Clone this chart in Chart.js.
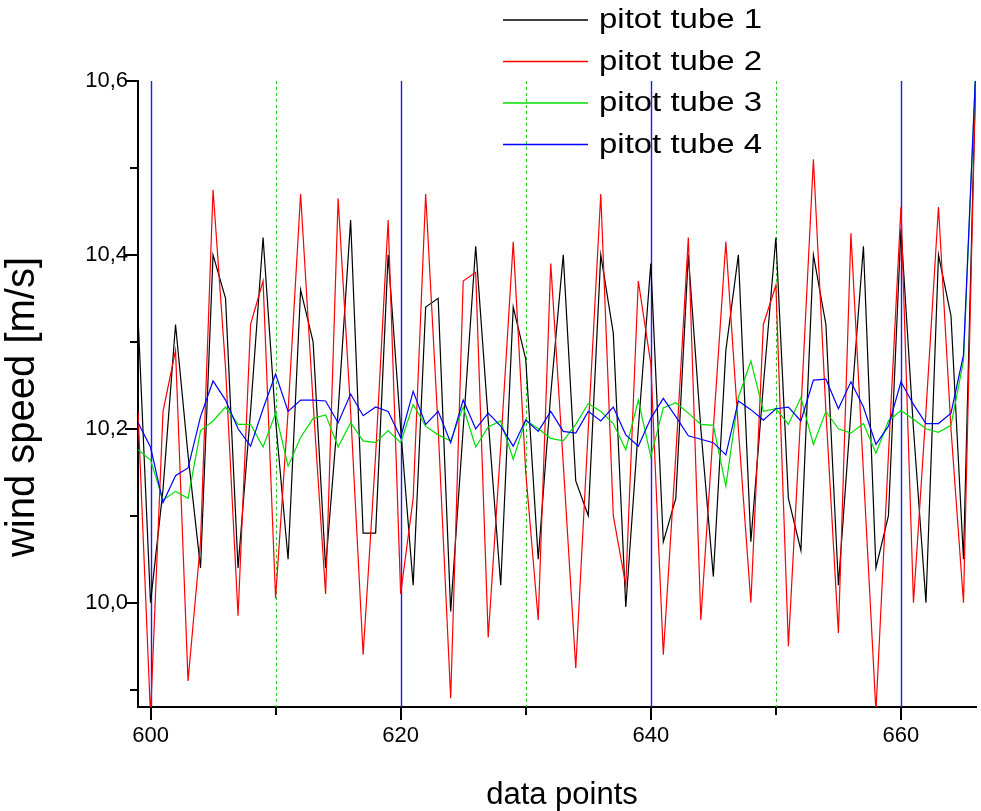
<!DOCTYPE html>
<html>
<head>
<meta charset="utf-8">
<script src="https://cdn.jsdelivr.net/npm/chart.js@4"></script>
<style>
  body { margin: 0; background: #fff; }
  #wrap { width: 981px; height: 811px; }
</style>
</head>
<body>
<div id="wrap"><canvas id="windChart"></canvas></div>
<script>
// data points (x axis)
const points = [
  599, 600, 601, 602, 603, 604, 605, 606, 607, 608, 609,
  610, 611, 612, 613, 614, 615, 616, 617, 618, 619,
  620, 621, 622, 623, 624, 625, 626, 627, 628, 629,
  630, 631, 632, 633, 634, 635, 636, 637, 638, 639,
  640, 641, 642, 643, 644, 645, 646, 647, 648, 649,
  650, 651, 652, 653, 654, 655, 656, 657, 658, 659,
  660, 661, 662, 663, 664, 665, 666
];

// wind speed [m/s] per pitot tube
const tube1 = [
  10.33, 10.00, 10.13, 10.32, 10.17, 10.04, 10.40, 10.35, 10.04, 10.22, 10.42,
  10.21, 10.05, 10.36, 10.30, 10.04, 10.22, 10.44, 10.08, 10.08, 10.40,
  10.20, 10.02, 10.34, 10.35, 9.99, 10.20, 10.41, 10.21, 10.02, 10.34,
  10.28, 10.05, 10.24, 10.40, 10.14, 10.10, 10.40, 10.31, 9.995, 10.20,
  10.39, 10.07, 10.12, 10.40, 10.20, 10.03, 10.29, 10.40, 10.07, 10.25,
  10.42, 10.12, 10.06, 10.40, 10.32, 10.02, 10.22, 10.41, 10.04, 10.10,
  10.43, 10.20, 10.00, 10.40, 10.33, 10.05, 10.62
];
const tube2 = [
  10.22, 9.87, 10.22, 10.29, 9.91, 10.07, 10.475, 10.27, 9.985, 10.32, 10.37,
  10.005, 10.22, 10.47, 10.23, 10.01, 10.465, 10.22, 9.94, 10.17, 10.44,
  10.01, 10.12, 10.47, 10.20, 9.89, 10.37, 10.38, 9.96, 10.18, 10.415,
  10.15, 9.98, 10.39, 10.16, 9.925, 10.20, 10.47, 10.10, 10.02, 10.37,
  10.275, 9.94, 10.17, 10.42, 9.98, 10.20, 10.415, 10.20, 10.00, 10.32,
  10.365, 9.95, 10.22, 10.51, 10.22, 9.965, 10.425, 10.15, 9.875, 10.17,
  10.455, 10.00, 10.22, 10.455, 10.20, 10.00, 10.62
];
const tube3 = [
  10.176, 10.164, 10.118, 10.128, 10.12, 10.198, 10.209, 10.225, 10.205, 10.205, 10.179,
  10.218, 10.157, 10.19, 10.212, 10.216, 10.179, 10.207, 10.186, 10.184, 10.198,
  10.184, 10.228, 10.203, 10.193, 10.186, 10.225, 10.179, 10.202, 10.209, 10.165,
  10.21, 10.20, 10.189, 10.186, 10.205, 10.229, 10.22, 10.206, 10.176, 10.233,
  10.168, 10.224, 10.23, 10.218, 10.205, 10.204, 10.134, 10.236, 10.278, 10.22,
  10.223, 10.205, 10.236, 10.182, 10.22, 10.20, 10.195, 10.206, 10.172, 10.209,
  10.221, 10.211, 10.20, 10.196, 10.204, 10.278, 10.62
];
const tube4 = [
  10.207, 10.179, 10.115, 10.146, 10.155, 10.214, 10.255, 10.233, 10.20, 10.18, 10.223,
  10.263, 10.22, 10.233, 10.233, 10.232, 10.207, 10.24, 10.215, 10.225, 10.22,
  10.19, 10.243, 10.205, 10.22, 10.184, 10.233, 10.20, 10.218, 10.203, 10.18,
  10.21, 10.197, 10.22, 10.197, 10.195, 10.22, 10.209, 10.225, 10.193, 10.18,
  10.212, 10.235, 10.214, 10.192, 10.188, 10.184, 10.17, 10.232, 10.222, 10.21,
  10.223, 10.225, 10.209, 10.256, 10.257, 10.223, 10.254, 10.225, 10.182, 10.203,
  10.254, 10.228, 10.206, 10.206, 10.218, 10.285, 10.62
];

const seriesNames = ["pitot tube 1", "pitot tube 2", "pitot tube 3", "pitot tube 4"];
const seriesColors = ["#000000", "#ff0000", "#00dd00", "#0000ff"];

// axis ticks and titles
const xMajorTicks = [600, 620, 640, 660];
const xMinorTicks = [610, 630, 650];
const yMajorTicks = [10.0, 10.2, 10.4, 10.6];
const yMinorTicks = [9.9, 10.1, 10.3, 10.5];
const xTitle = "data points";
const yTitle = "wind speed [m/s]";

const FONT = "'Liberation Sans', Arial, sans-serif";

function toXY(values) {
  return points.map((p, i) => ({ x: p, y: values[i] }));
}

// vertical marker lines at the x ticks (blue solid / green dashed)
const markerLines = {
  id: "markerLines",
  beforeDatasetsDraw(chart) {
    const { ctx, chartArea } = chart;
    const xs = chart.scales.x;
    ctx.save();
    ctx.lineWidth = 1;
    ctx.strokeStyle = "#22cc22";
    ctx.setLineDash([3, 3]);
    xMinorTicks.forEach((v) => {
      const px = Math.round(xs.getPixelForValue(v)) + 0.5;
      ctx.beginPath();
      ctx.moveTo(px, chartArea.top);
      ctx.lineTo(px, chartArea.bottom);
      ctx.stroke();
    });
    ctx.setLineDash([]);
    ctx.strokeStyle = "#1a1aff";
    ctx.lineWidth = 1.4;
    xMajorTicks.forEach((v) => {
      const px = Math.round(xs.getPixelForValue(v)) + 0.5;
      ctx.beginPath();
      ctx.moveTo(px, chartArea.top);
      ctx.lineTo(px, chartArea.bottom);
      ctx.stroke();
    });
    ctx.restore();
  }
};

// outward tick marks (long for labelled ticks) and the two axis titles
const axisDecor = {
  id: "axisDecor",
  afterDraw(chart) {
    const { ctx, chartArea } = chart;
    const xs = chart.scales.x, ys = chart.scales.y;
    ctx.save();
    ctx.strokeStyle = "#000";
    ctx.lineWidth = 2;
    const xTick = (v, len) => {
      const px = Math.round(xs.getPixelForValue(v));
      ctx.beginPath();
      ctx.moveTo(px, xs.top);
      ctx.lineTo(px, xs.top + len);
      ctx.stroke();
    };
    const yTick = (v, len) => {
      const py = Math.round(ys.getPixelForValue(v));
      ctx.beginPath();
      ctx.moveTo(ys.right, py);
      ctx.lineTo(ys.right - len, py);
      ctx.stroke();
    };
    xMajorTicks.forEach((v) => xTick(v, 13));
    xMinorTicks.forEach((v) => xTick(v, 8));
    yMajorTicks.forEach((v) => yTick(v, 13));
    yMinorTicks.forEach((v) => yTick(v, 8));

    ctx.fillStyle = "#000";
    ctx.textAlign = "center";
    ctx.textBaseline = "middle";
    ctx.font = "31px " + FONT;
    ctx.fillText(xTitle, (chartArea.left + chartArea.right) / 2 + 5, 795);
    ctx.translate(23, 407);
    ctx.rotate(-Math.PI / 2);
    ctx.font = "40px " + FONT;
    ctx.fillText(yTitle, 0, 0);
    ctx.restore();
  }
};

// legend in the top area: line sample and label
const lineLegend = {
  id: "lineLegend",
  afterDraw(chart) {
    const { ctx } = chart;
    ctx.save();
    chart.data.datasets.forEach((ds, i) => {
      const y = 20 + i * 41.5;
      ctx.strokeStyle = ds.borderColor;
      ctx.lineWidth = 1.5;
      ctx.beginPath();
      ctx.moveTo(503, y);
      ctx.lineTo(588, y);
      ctx.stroke();
      ctx.save();
      ctx.translate(599, y);
      ctx.scale(1.22, 1);
      ctx.fillStyle = "#000";
      ctx.font = "27px " + FONT;
      ctx.textBaseline = "middle";
      ctx.fillText(ds.label, 0, 1);
      ctx.restore();
    });
    ctx.restore();
  }
};

const datasets = [tube1, tube2, tube3, tube4].map((vals, i) => ({
  label: seriesNames[i],
  data: toXY(vals),
  borderColor: seriesColors[i],
  backgroundColor: seriesColors[i],
  borderWidth: 1.2,
  pointRadius: 0,
  tension: 0,
  order: 4 - i
}));

new Chart(document.getElementById("windChart"), {
  type: "line",
  data: { datasets: datasets },
  options: {
    responsive: true,
    maintainAspectRatio: false,
    animation: false,
    events: [],
    layout: { padding: { top: 81, right: 5, left: 0, bottom: 0 } },
    plugins: { legend: { display: false }, tooltip: { enabled: false } },
    scales: {
      x: {
        type: "linear",
        min: 599,
        max: 666,
        afterFit: (scale) => { scale.height = 104; },
        afterBuildTicks: (scale) => {
          scale.ticks = xMajorTicks.concat(xMinorTicks).map((v) => ({ value: v }));
        },
        ticks: {
          autoSkip: false,
          maxRotation: 0,
          padding: 3,
          color: "#000",
          font: { family: FONT, size: 22 },
          callback: (v) => (xMajorTicks.includes(v) ? String(v) : "")
        },
        grid: { drawOnChartArea: false, tickLength: 13, tickColor: "rgba(0,0,0,0)" },
        border: { color: "#000", width: 2 }
      },
      y: {
        type: "linear",
        min: 9.88,
        max: 10.6,
        afterFit: (scale) => { scale.width = 138; },
        afterBuildTicks: (scale) => {
          scale.ticks = yMinorTicks.concat(yMajorTicks).map((v) => ({ value: v }));
        },
        ticks: {
          autoSkip: false,
          padding: 0,
          color: "#000",
          font: { family: FONT, size: 22 },
          callback: (v) => (yMajorTicks.some((m) => Math.abs(m - v) < 1e-6) ? v.toFixed(1).replace(".", ",") : "")
        },
        grid: { drawOnChartArea: false, tickLength: 10, tickColor: "rgba(0,0,0,0)" },
        border: { color: "#000", width: 2 }
      }
    }
  },
  plugins: [markerLines, axisDecor, lineLegend]
});
</script>
</body>
</html>
